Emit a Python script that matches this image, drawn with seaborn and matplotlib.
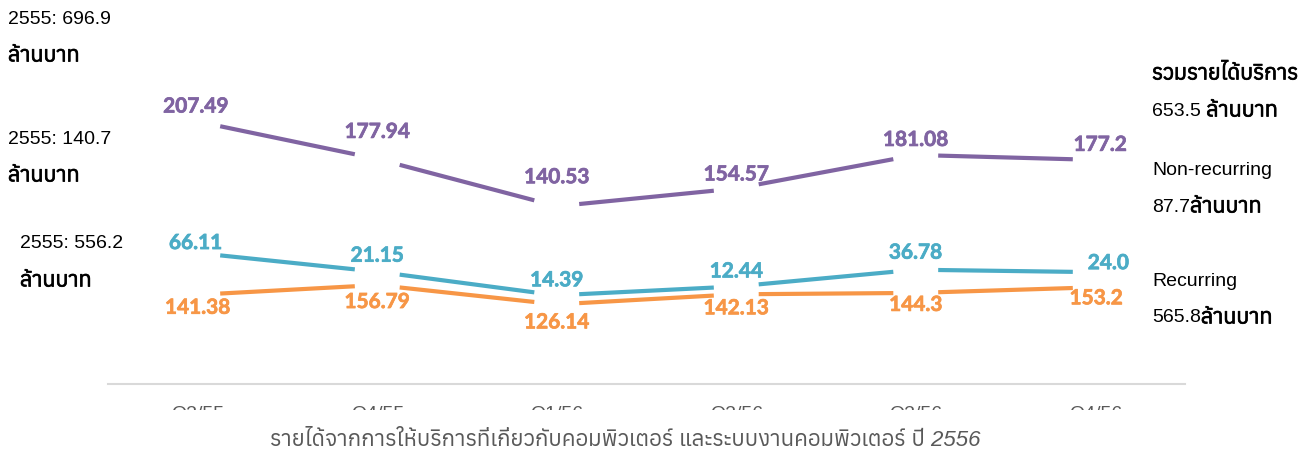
import numpy as np
import pandas as pd
import matplotlib
matplotlib.use("Agg")
import matplotlib.pyplot as plt
import matplotlib.patheffects as pe
from matplotlib import font_manager
from matplotlib.ft2font import FT2Font
from matplotlib.patches import Rectangle
import seaborn as sns

# ข้อมูล (ล้านบาท)
quarters = ["Q3/55", "Q4/55", "Q1/56", "Q2/56", "Q3/56", "Q4/56"]
recurring = [141.38, 156.79, 126.14, 142.13, 144.3, 153.2]
non_recurring = [66.11, 21.15, 14.39, 12.44, 36.78, 24.0]
total = [207.49, 177.94, 140.53, 154.57, 181.08, 177.2]

# หา font ที่มีอักษรไทย
thai_fonts = []
for f in font_manager.fontManager.ttflist:
    try:
        if 0x0E25 in FT2Font(f.fname).get_charmap():
            thai_fonts.append(f.name)
    except Exception:
        pass
thai_fonts = sorted(set(thai_fonts))

sns.set_style("white")
base_family = ["Liberation Sans"] + thai_fonts[:1] + ["DejaVu Sans"]
plt.rcParams['font.family'] = base_family
num_family = ["Lato", "DejaVu Sans"]
bold_fx = [pe.withStroke(linewidth=0.5, foreground='black')]

c_purple = "#8064A2"
c_cyan = "#4BACC6"
c_orange = "#F79646"

fig = plt.figure(figsize=(13.16, 4.54), dpi=100)
ax = fig.add_axes([108 / 1316, 70 / 454, (1185 - 108) / 1316, 320 / 454])
ax2 = ax.twinx()

gap = 0.125


def segments(vals):
    # เส้นแบบเว้นช่องตรงจุดข้อมูล
    rows = []
    for i in range(len(vals) - 1):
        for t in (gap, 1 - gap):
            rows.append({'seg': i, 'x': i + t,
                         'y': vals[i] + (vals[i + 1] - vals[i]) * t})
    return pd.DataFrame(rows)


stacked = [r + n for r, n in zip(recurring, non_recurring)]

sns.lineplot(data=segments(recurring), x='x', y='y', units='seg', estimator=None,
             color=c_orange, linewidth=3, ax=ax, solid_capstyle='butt')
sns.lineplot(data=segments(stacked), x='x', y='y', units='seg', estimator=None,
             color=c_cyan, linewidth=3, ax=ax, solid_capstyle='butt')
sns.lineplot(data=segments(total), x='x', y='y', units='seg', estimator=None,
             color=c_purple, linewidth=3, ax=ax2, solid_capstyle='butt')

ax.set_xlim(-0.5, 5.5)
ax.set_ylim(0, 507)
ax2.set_ylim(0, 253)

for a in (ax, ax2):
    a.set_xlabel('')
    a.set_ylabel('')
    a.set_yticks([])
    for s in ['top', 'right', 'left', 'bottom']:
        a.spines[s].set_visible(False)
ax.spines['bottom'].set_visible(True)
ax.spines['bottom'].set_color('#D9D9D9')
ax.spines['bottom'].set_linewidth(1.5)
ax.set_xticks(range(len(quarters)))
ax.set_xticklabels(quarters, fontsize=14, color='#595959')
ax.tick_params(axis='x', length=0, pad=15.5)

# ป้ายค่า
lab_kw = dict(textcoords='offset pixels', ha='center', va='center',
              fontsize=15, fontweight='bold', family=num_family)
p_dy = [15, 27, 29, 14, 15, 15]
p_dx = [-2, 0, 0, 0, 0, 5]
for i, v in enumerate(total):
    ax2.annotate(f"{v:g}", (i, v), xytext=(p_dx[i], p_dy[i]), color=c_purple,
                 path_effects=[pe.withStroke(linewidth=0.5, foreground=c_purple)], **lab_kw)
c_dy = [10, 16, 15, 15, 17, 9]
c_dx = [-2, 0, 0, 0, 0, 13]
for i, (s, n) in enumerate(zip(stacked, non_recurring)):
    ax.annotate(f"{n:.1f}" if n == 24.0 else f"{n:g}", (i, s), xytext=(c_dx[i], c_dy[i]),
                color=c_cyan, path_effects=[pe.withStroke(linewidth=0.5, foreground=c_cyan)],
                **lab_kw)
o_dy = [-13, -17, -18, -14, -12, -11]
o_dx = [0, 0, 0, 0, 0, 1]
for i, r in enumerate(recurring):
    ax.annotate(f"{r:g}", (i, r), xytext=(o_dx[i], o_dy[i]), color=c_orange,
                path_effects=[pe.withStroke(linewidth=0.5, foreground=c_orange)], **lab_kw)

# ข้อความด้านซ้าย / ขวา
W, H = 1316, 454


def ftext(x, y, s, **kw):
    kw.setdefault('fontsize', 14)
    return fig.text(x / W, 1 - y / H, s, va='center', ha='left',
                    color='black', **kw)


def thai_bold(x, y, s):
    return ftext(x, y, s, fontsize=15.5, path_effects=bold_fx)


def ftext2(x, y, s1, s2):
    t = ftext(x, y, s1)
    ax.annotate(s2, xy=(1, 0.5), xycoords=t, va='center', ha='left',
                fontsize=15.5, color='black', path_effects=bold_fx,
                annotation_clip=False)


ftext(8, 20, "2555: 696.9")
thai_bold(8, 56, "ล้านบาท")
ftext(8, 140, "2555: 140.7")
thai_bold(8, 176, "ล้านบาท")
ftext(20, 244, "2555: 556.2")
thai_bold(20, 281, "ล้านบาท")

thai_bold(1152, 74, "รวมรายได้บริการ")
ftext2(1152, 111, "653.5 ", "ล้านบาท")
ftext(1152, 171, "Non-recurring")
ftext2(1152, 207, "87.7", "ล้านบาท")
ftext(1152, 282, "Recurring")
ftext2(1152, 318, "565.8", "ล้านบาท")

# ปิดส่วนล่างของป้ายแกน x
fig.patches.append(Rectangle((0, 0), 1, (H - 410) / H, transform=fig.transFigure,
                             facecolor='white', edgecolor='none', zorder=5))
fig.text(625 / W, 1 - 441 / H, "รายได้จากการให้บริการที่เกี่ยวกับคอมพิวเตอร์ และระบบงานคอมพิวเตอร์ ปี 2556",
         ha='center', va='center', fontsize=16, style='italic', color='#595959', zorder=6)

fig.savefig('out.png', dpi=100)
